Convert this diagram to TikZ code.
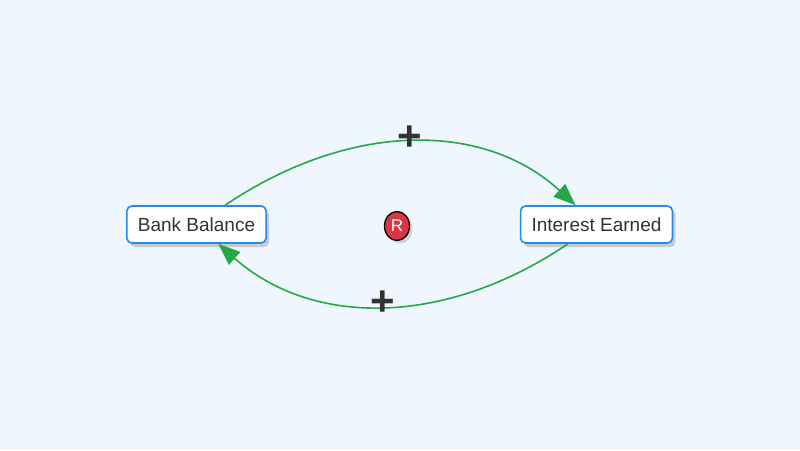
\documentclass[tikz,border=0pt]{standalone}
\usepackage{fontspec}
\setmainfont{Liberation Sans}
\usetikzlibrary{arrows.meta,shadows,shapes.geometric}
\definecolor{BgBlue}{RGB}{239,246,253}
\definecolor{BoxBlue}{RGB}{33,140,235}
\definecolor{LinkGreen}{RGB}{40,167,69}
\definecolor{LoopRed}{RGB}{220,53,69}
\definecolor{TextGray}{RGB}{51,51,51}

\tikzset{
  varbox/.style={draw=BoxBlue,line width=1.6pt,fill=white,rounded corners=5pt,
    minimum height=37pt,inner xsep=11pt,text=TextGray,font=\fontsize{19}{21}\selectfont,
    drop shadow={shadow xshift=3pt,shadow yshift=-4pt,opacity=0.35}},
  link/.style={LinkGreen,line width=1.6pt,-{Triangle[length=22pt,width=17pt]}},
  polarity/.style={text=TextGray,font=\fontsize{42}{42}\selectfont\bfseries,inner sep=0pt},
  loopmark/.style={ellipse,draw=black,line width=1.3pt,fill=LoopRed,text=white,
    minimum width=25pt,minimum height=29pt,inner sep=0pt,font=\fontsize{17}{17}\selectfont,
    drop shadow={shadow xshift=3pt,shadow yshift=-3pt,opacity=0.3}}
}

\begin{document}
\begin{tikzpicture}[x=1pt,y=-1pt]
  \fill[BgBlue] (0,0) rectangle (800,450);
  \useasboundingbox (0,0) rectangle (800,450);

  \node[varbox] (bank) at (196.5,224.5) {Bank Balance};
  \node[varbox] (interest) at (596.5,224.5) {Interest Earned};
  \node[loopmark] (loop) at (397,226) {R};

  % reinforcing loop
  \draw[link] (bank) .. controls (350,121) and (484,121) .. (interest);
  \draw[link] (interest) .. controls (445,327) and (312,327) .. (bank);

  \node[polarity] (plusTop) at (410,138) {+};
  \node[polarity] (plusBot) at (383,303) {+};
\end{tikzpicture}
\end{document}
